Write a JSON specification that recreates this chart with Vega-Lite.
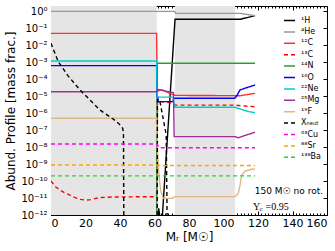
{
 "$schema": "https://vega.github.io/schema/vega-lite/v6.json",
 "width": 276, "height": 209,
 "autosize": {"type": "none"},
 "padding": {"left": 51, "top": 6, "right": 8, "bottom": 36},
 "background": "white",
 "config": {
  "view": {"stroke": "black", "strokeWidth": 1},
  "axis": {"labelFont": "DejaVu Sans", "titleFont": "DejaVu Sans", "labelColor": "black", "titleColor": "black", "tickColor": "black", "domainColor": "black", "grid": false, "titleFontWeight": "normal", "domain": false},
  "legend": {"orient": "none", "legendX": 232, "legendY": 8, "symbolType": "stroke", "symbolSize": 121, "symbolStrokeWidth": 1.5, "labelFontSize": 8, "labelFont": "DejaVu Sans", "labelColor": "black", "rowPadding": 0.4, "padding": 0, "labelOffset": 5}
 },
 "datasets": {
  "shade": [{"start": 0, "end": 61.3}, {"start": 71.9, "end": 106.7}],
  "profiles": [
   {"species": "¹H", "mass": 0, "abund": 1e-14}, {"species": "¹H", "mass": 61.6, "abund": 1e-14}, {"species": "¹H", "mass": 62.4, "abund": 2.5e-12}, {"species": "¹H", "mass": 63.4, "abund": 5e-13}, {"species": "¹H", "mass": 64.6, "abund": 1e-12}, {"species": "¹H", "mass": 71.9, "abund": 0.33}, {"species": "¹H", "mass": 109.6, "abund": 0.33}, {"species": "¹H", "mass": 118.3, "abund": 0.54},
   {"species": "⁴He", "mass": 0, "abund": 0.96}, {"species": "⁴He", "mass": 71.6, "abund": 0.96}, {"species": "⁴He", "mass": 72.4, "abund": 0.74}, {"species": "⁴He", "mass": 109.6, "abund": 0.74}, {"species": "⁴He", "mass": 118.3, "abund": 0.54},
   {"species": "¹²C", "mass": 0, "abund": 0.049}, {"species": "¹²C", "mass": 61.2, "abund": 0.049}, {"species": "¹²C", "mass": 61.6, "abund": 1.8e-5}, {"species": "¹²C", "mass": 63, "abund": 2.3e-5}, {"species": "¹²C", "mass": 66, "abund": 2e-5}, {"species": "¹²C", "mass": 69, "abund": 1.4e-5}, {"species": "¹²C", "mass": 72, "abund": 1.1e-5}, {"species": "¹²C", "mass": 109.6, "abund": 1.05e-5}, {"species": "¹²C", "mass": 118.3, "abund": 1.45e-5},
   {"species": "¹³C", "mass": 0, "abund": 1e-10}, {"species": "¹³C", "mass": 2.5, "abund": 4.7e-11}, {"species": "¹³C", "mass": 5.2, "abund": 2.95e-11}, {"species": "¹³C", "mass": 8, "abund": 2e-11}, {"species": "¹³C", "mass": 11, "abund": 1.5e-11}, {"species": "¹³C", "mass": 14, "abund": 1.05e-11}, {"species": "¹³C", "mass": 17, "abund": 8.3e-12}, {"species": "¹³C", "mass": 20, "abund": 7.6e-12}, {"species": "¹³C", "mass": 23, "abund": 8e-12}, {"species": "¹³C", "mass": 28, "abund": 1.05e-11}, {"species": "¹³C", "mass": 35, "abund": 1.15e-11}, {"species": "¹³C", "mass": 61.2, "abund": 1.2e-11}, {"species": "¹³C", "mass": 61.8, "abund": 5e-6}, {"species": "¹³C", "mass": 70, "abund": 4e-6}, {"species": "¹³C", "mass": 72, "abund": 2.95e-6}, {"species": "¹³C", "mass": 107, "abund": 2.95e-6}, {"species": "¹³C", "mass": 110, "abund": 2.7e-6}, {"species": "¹³C", "mass": 118.3, "abund": 2.35e-6},
   {"species": "¹⁴N", "mass": 0, "abund": 1e-14}, {"species": "¹⁴N", "mass": 61.3, "abund": 1e-14}, {"species": "¹⁴N", "mass": 61.5, "abund": 8.5e-4}, {"species": "¹⁴N", "mass": 118.3, "abund": 8.5e-4},
   {"species": "¹⁶O", "mass": 0, "abund": 6.2e-4}, {"species": "¹⁶O", "mass": 61.2, "abund": 6.2e-4}, {"species": "¹⁶O", "mass": 61.5, "abund": 9.1e-6}, {"species": "¹⁶O", "mass": 61.9, "abund": 9.1e-6}, {"species": "¹⁶O", "mass": 62.2, "abund": 4.7e-6}, {"species": "¹⁶O", "mass": 70.7, "abund": 4.7e-6}, {"species": "¹⁶O", "mass": 71.2, "abund": 7.4e-6}, {"species": "¹⁶O", "mass": 106.5, "abund": 7.4e-6}, {"species": "¹⁶O", "mass": 107.6, "abund": 1e-5}, {"species": "¹⁶O", "mass": 109.6, "abund": 2.3e-5}, {"species": "¹⁶O", "mass": 112.5, "abund": 2.9e-5}, {"species": "¹⁶O", "mass": 118.3, "abund": 4.5e-5},
   {"species": "²²Ne", "mass": 0, "abund": 1.15e-3}, {"species": "²²Ne", "mass": 61.2, "abund": 1.15e-3}, {"species": "²²Ne", "mass": 61.6, "abund": 8.7e-6}, {"species": "²²Ne", "mass": 70.8, "abund": 8.7e-6}, {"species": "²²Ne", "mass": 71.6, "abund": 2.2e-6}, {"species": "²²Ne", "mass": 106.7, "abund": 2.2e-6}, {"species": "²²Ne", "mass": 110, "abund": 1.7e-6}, {"species": "²²Ne", "mass": 114, "abund": 1.25e-6}, {"species": "²²Ne", "mass": 118.3, "abund": 1.05e-6},
   {"species": "²⁵Mg", "mass": 0, "abund": 1.8e-5}, {"species": "²⁵Mg", "mass": 61.2, "abund": 1.8e-5}, {"species": "²⁵Mg", "mass": 62, "abund": 2.4e-5}, {"species": "²⁵Mg", "mass": 64, "abund": 2.3e-5}, {"species": "²⁵Mg", "mass": 67, "abund": 1.9e-5}, {"species": "²⁵Mg", "mass": 71, "abund": 1.6e-5}, {"species": "²⁵Mg", "mass": 71.4, "abund": 4.1e-8}, {"species": "²⁵Mg", "mass": 106.7, "abund": 4.1e-8}, {"species": "²⁵Mg", "mass": 108.6, "abund": 3.5e-8}, {"species": "²⁵Mg", "mass": 113, "abund": 5e-8}, {"species": "²⁵Mg", "mass": 118.3, "abund": 7.4e-8},
   {"species": "¹⁹F", "mass": 0, "abund": 4.9e-7}, {"species": "¹⁹F", "mass": 61, "abund": 4.9e-7}, {"species": "¹⁹F", "mass": 61.6, "abund": 3e-8}, {"species": "¹⁹F", "mass": 62, "abund": 1.7e-9}, {"species": "¹⁹F", "mass": 62.6, "abund": 2.3e-10}, {"species": "¹⁹F", "mass": 63.5, "abund": 3e-11}, {"species": "¹⁹F", "mass": 65, "abund": 9.5e-12}, {"species": "¹⁹F", "mass": 70.5, "abund": 9.5e-12}, {"species": "¹⁹F", "mass": 71.6, "abund": 1.2e-11}, {"species": "¹⁹F", "mass": 106.7, "abund": 1.2e-11}, {"species": "¹⁹F", "mass": 108.6, "abund": 1.9e-11}, {"species": "¹⁹F", "mass": 109.6, "abund": 5.8e-11}, {"species": "¹⁹F", "mass": 110.6, "abund": 2.2e-10}, {"species": "¹⁹F", "mass": 112.5, "abund": 3.9e-10}, {"species": "¹⁹F", "mass": 117.1, "abund": 5.1e-10}, {"species": "¹⁹F", "mass": 118.3, "abund": 5e-10},
   {"species": "Xₙₑᵤₜ", "mass": 0, "abund": 0.0128}, {"species": "Xₙₑᵤₜ", "mass": 4.2, "abund": 1.05e-3}, {"species": "Xₙₑᵤₜ", "mass": 10, "abund": 1.5e-4}, {"species": "Xₙₑᵤₜ", "mass": 16.8, "abund": 2.3e-5}, {"species": "Xₙₑᵤₜ", "mass": 28.4, "abund": 1.5e-6}, {"species": "Xₙₑᵤₜ", "mass": 36, "abund": 4.5e-7}, {"species": "Xₙₑᵤₜ", "mass": 39.5, "abund": 2.3e-7}, {"species": "Xₙₑᵤₜ", "mass": 41.5, "abund": 1.3e-7}, {"species": "Xₙₑᵤₜ", "mass": 42, "abund": 7.6e-8}, {"species": "Xₙₑᵤₜ", "mass": 42.3, "abund": 1e-14}, {"species": "Xₙₑᵤₜ", "mass": 61.5, "abund": 1e-14}, {"species": "Xₙₑᵤₜ", "mass": 61.7, "abund": 6e-6}, {"species": "Xₙₑᵤₜ", "mass": 63, "abund": 5.9e-6}, {"species": "Xₙₑᵤₜ", "mass": 66.8, "abund": 5.1e-8}, {"species": "Xₙₑᵤₜ", "mass": 67.5, "abund": 1e-14},
   {"species": "⁶³Cu", "mass": 0, "abund": 1.5e-8}, {"species": "⁶³Cu", "mass": 61.4, "abund": 1.5e-8}, {"species": "⁶³Cu", "mass": 62.6, "abund": 9.1e-9}, {"species": "⁶³Cu", "mass": 118.3, "abund": 9.1e-9},
   {"species": "⁸⁸Sr", "mass": 0, "abund": 8.8e-10}, {"species": "⁸⁸Sr", "mass": 61.4, "abund": 8.8e-10}, {"species": "⁸⁸Sr", "mass": 62.6, "abund": 8.2e-10}, {"species": "⁸⁸Sr", "mass": 118.3, "abund": 8.2e-10},
   {"species": "¹³⁸Ba", "mass": 0, "abund": 2e-10}, {"species": "¹³⁸Ba", "mass": 118.3, "abund": 2e-10}
  ]
 },
 "layer": [
  {
   "data": {"name": "shade"},
   "mark": {"type": "rect", "color": "#e5e5e5"},
   "encoding": {
    "x": {"field": "start", "type": "quantitative", "scale": {"domain": [0, 160], "nice": false, "zero": false},
          "axis": {"orient": "bottom", "values": [0, 20, 40, 60, 80, 100, 120, 140, 160], "tickSize": -4, "labelPadding": 6, "labelFontSize": 11, "title": "Mᵣ [M☉]", "titleFontSize": 12, "titlePadding": 3}},
    "x2": {"field": "end"}
   }
  },
  {
   "data": {"name": "profiles"},
   "mark": {"type": "line", "clip": true, "strokeWidth": 1.4},
   "encoding": {
    "x": {"field": "mass", "type": "quantitative", "scale": {"domain": [0, 160], "nice": false, "zero": false},
          "axis": {"orient": "bottom", "values": [0,2,4,6,8,10,12,14,16,18,20,22,24,26,28,30,32,34,36,38,40,42,44,46,48,50,52,54,56,58,60,62,64,66,68,70,72,74,76,78,80,82,84,86,88,90,92,94,96,98,100,102,104,106,108,110,112,114,116,118,120,122,124,126,128,130,132,134,136,138,140,142,144,146,148,150,152,154,156,158,160], "labels": false, "tickSize": -2, "title": null}},
    "y": {"field": "abund", "type": "quantitative", "scale": {"type": "log", "domain": [1e-12, 2], "nice": false},
          "axis": {"orient": "left", "values": [1, 0.1, 0.01, 0.001, 0.0001, 0.00001, 0.000001, 1e-7, 1e-8, 1e-9, 1e-10, 1e-11, 1e-12], "labelExpr": "['10⁰','10⁻¹','10⁻²','10⁻³','10⁻⁴','10⁻⁵','10⁻⁶','10⁻⁷','10⁻⁸','10⁻⁹','10⁻¹⁰','10⁻¹¹','10⁻¹²'][round(-log(datum.value)/LN10)]", "tickSize": -4, "labelPadding": 8, "labelFontSize": 10, "labelOverlap": false, "title": "Abund. Profile [mass frac.]", "titleFontSize": 12, "titlePadding": 3}},
    "color": {"field": "species", "type": "nominal", "title": null,
              "scale": {"domain": ["¹H","⁴He","¹²C","¹³C","¹⁴N","¹⁶O","²²Ne","²⁵Mg","¹⁹F","Xₙₑᵤₜ","⁶³Cu","⁸⁸Sr","¹³⁸Ba"],
                        "range": ["#000000","#999999","#ff3030","#ff0000","#339933","#0000ff","#00cccc","#993399","#deb887","#000000","#ff00ff","#ffa500","#33cc33"]}},
    "strokeDash": {"field": "species", "type": "nominal", "title": null,
              "scale": {"domain": ["¹H","⁴He","¹²C","¹³C","¹⁴N","¹⁶O","²²Ne","²⁵Mg","¹⁹F","Xₙₑᵤₜ","⁶³Cu","⁸⁸Sr","¹³⁸Ba"],
                        "range": [[1,0],[1,0],[1,0],[4,3],[1,0],[1,0],[1,0],[1,0],[1,0],[4,3],[4,3],[4,3],[4,3]]}}
   }
  },
  {
   "data": {"values": [{}]},
   "mark": {"type": "text", "align": "right", "baseline": "middle", "fontSize": 9, "font": "DejaVu Sans", "color": "black"},
   "encoding": {
    "x": {"datum": 157.7, "type": "quantitative", "scale": {"domain": [0, 160], "nice": false, "zero": false},
          "axis": {"orient": "top", "values": [0,2,4,6,8,10,12,14,16,18,20,22,24,26,28,30,32,34,36,38,40,42,44,46,48,50,52,54,56,58,60,62,64,66,68,70,72,74,76,78,80,82,84,86,88,90,92,94,96,98,100,102,104,106,108,110,112,114,116,118,120,122,124,126,128,130,132,134,136,138,140,142,144,146,148,150,152,154,156,158,160], "labels": false, "tickSize": {"condition": {"test": "datum.value % 20 === 0", "value": -4}, "value": -2}, "title": null}},
    "y": {"datum": 2.7e-11, "type": "quantitative", "scale": {"type": "log", "domain": [1e-12, 2], "nice": false},
          "axis": {"orient": "right", "values": [1, 0.1, 0.01, 0.001, 0.0001, 0.00001, 0.000001, 1e-7, 1e-8, 1e-9, 1e-10, 1e-11, 1e-12], "labels": false, "tickSize": -4, "title": null}},
    "text": {"value": "150 M☉ no rot."}
   }
  },
  {
   "data": {"values": [{}]},
   "mark": {"type": "text", "align": "left", "baseline": "middle", "fontSize": 10, "font": "Liberation Serif", "color": "black"},
   "encoding": {
    "x": {"datum": 117.1, "type": "quantitative", "axis": null},
    "y": {"datum": 3.1e-12, "type": "quantitative", "axis": null},
    "text": {"value": "Y"}
   }
  },
  {
   "data": {"values": [{}]},
   "mark": {"type": "text", "align": "left", "baseline": "middle", "fontSize": 7, "font": "Liberation Serif", "color": "black", "dx": 6.5, "dy": 2.5},
   "encoding": {
    "x": {"datum": 117.1, "type": "quantitative", "axis": null},
    "y": {"datum": 3.1e-12, "type": "quantitative", "axis": null},
    "text": {"value": "c"}
   }
  },
  {
   "data": {"values": [{}]},
   "mark": {"type": "text", "align": "left", "baseline": "middle", "fontSize": 10, "font": "Liberation Serif", "color": "black", "dx": 12.5},
   "encoding": {
    "x": {"datum": 117.1, "type": "quantitative", "axis": null},
    "y": {"datum": 3.1e-12, "type": "quantitative", "axis": null},
    "text": {"value": "=0.95"}
   }
  }
 ],
 "resolve": {"axis": {"x": "independent", "y": "independent"}}
}
